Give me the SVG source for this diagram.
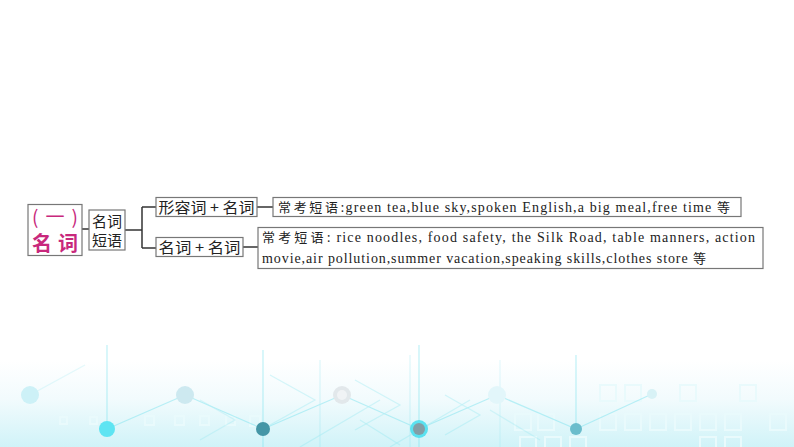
<svg xmlns="http://www.w3.org/2000/svg" width="794" height="447" viewBox="0 0 794 447">
<style>
.box{fill:#fff;stroke:#777;stroke-width:1.2}
.con{stroke:#333;stroke-width:1.5;fill:none}
.cn{font-family:"Noto Sans CJK SC","Noto Sans",sans-serif}
.en{font-family:"Liberation Serif","Noto Sans CJK SC",serif}
.t{font-size:15px;fill:#222}
.s{font-size:14px;fill:#222}
.c13{font-size:13px}
.deco{stroke:#74e2ee;stroke-width:1.2;fill:none}
.sq{fill:none;stroke:#e9fafc;stroke-width:2}
</style>
<defs>
<linearGradient id="bg" x1="0" y1="0" x2="0" y2="1">
<stop offset="0" stop-color="#ffffff"/>
<stop offset="0.45" stop-color="#f2fbfd"/>
<stop offset="1" stop-color="#d0f3f8"/>
</linearGradient>
</defs>
<rect width="794" height="447" fill="#fff"/>
<g id="background">
<rect x="0" y="360" width="794" height="87" fill="url(#bg)"/>
<g class="sq">
<rect x="60" y="417" width="7" height="7"/><rect x="90" y="417" width="7" height="7"/>
<rect x="145" y="416" width="9" height="9"/><rect x="175" y="416" width="9" height="9"/><rect x="200" y="416" width="9" height="9"/>
<rect x="226" y="416" width="9" height="9"/><rect x="250" y="416" width="10" height="10"/>
<rect x="515" y="414" width="16" height="16"/><rect x="538" y="414" width="16" height="16"/><rect x="600" y="414" width="16" height="16"/>
<rect x="625" y="414" width="16" height="16"/><rect x="650" y="414" width="16" height="16"/><rect x="675" y="414" width="16" height="16"/>
<rect x="700" y="414" width="16" height="16"/><rect x="725" y="414" width="16" height="16"/><rect x="770" y="414" width="16" height="16"/>
<rect x="520" y="437" width="16" height="16"/><rect x="545" y="437" width="16" height="16"/><rect x="570" y="437" width="16" height="16"/>
<rect x="700" y="437" width="16" height="16"/><rect x="725" y="437" width="16" height="16"/>
<rect x="600" y="385" width="16" height="16"/><rect x="625" y="385" width="16" height="16"/><rect x="680" y="385" width="16" height="16"/><rect x="740" y="385" width="16" height="16"/>
</g>
<g class="deco" opacity="0.45">
<line x1="107" y1="345" x2="107" y2="429"/>
<line x1="107" y1="429" x2="185" y2="395"/>
<line x1="185" y1="395" x2="263" y2="429"/>
<line x1="263" y1="429" x2="342" y2="395"/>
<line x1="263" y1="350" x2="263" y2="447"/>
<line x1="342" y1="395" x2="419" y2="429"/>
<line x1="419" y1="429" x2="497" y2="395"/>
<line x1="419" y1="345" x2="419" y2="447"/>
<line x1="497" y1="395" x2="576" y2="429"/>
<line x1="576" y1="429" x2="652" y2="394"/>
<line x1="576" y1="355" x2="576" y2="429"/>
<line x1="30" y1="395" x2="85" y2="365" opacity="0.4"/>
<polyline points="200,400 235,420 200,440" opacity="0.5"/>
<polyline points="270,375 315,400 270,425" opacity="0.6"/>
<polyline points="355,380 400,405 355,430" opacity="0.6"/>
<polyline points="360,420 400,445" opacity="0.6"/>
<polyline points="445,395 480,415 445,435" opacity="0.6"/>
<line x1="300" y1="447" x2="380" y2="400" opacity="0.6"/>
<line x1="390" y1="447" x2="470" y2="400" opacity="0.6"/>
<line x1="490" y1="410" x2="540" y2="440" opacity="0.5"/>
<line x1="320" y1="360" x2="320" y2="447" opacity="0.5"/>
<line x1="410" y1="355" x2="410" y2="447" opacity="0.5"/>
<line x1="500" y1="360" x2="500" y2="447" opacity="0.4"/>
</g>
<circle cx="30" cy="395" r="9" fill="#cdf1f7"/>
<circle cx="185" cy="395" r="9" fill="#cde9f0"/>
<circle cx="342" cy="395" r="9" fill="#e2e8eb"/>
<circle cx="342" cy="395" r="5" fill="#f0f3f5"/>
<circle cx="497" cy="395" r="9" fill="#e2f6fa"/>
<circle cx="652" cy="394" r="5" fill="#d8f2f6"/>
<circle cx="107" cy="429" r="8" fill="#5ee4f2"/>
<circle cx="263" cy="429" r="7" fill="#4596a6"/>
<circle cx="419" cy="429" r="9" fill="#5ae2f0"/>
<circle cx="419" cy="429" r="6" fill="#839ea6"/>
<circle cx="576" cy="429" r="6" fill="#6bbdcc"/>
</g>
<g id="connectors" class="con">
<line x1="82" y1="229" x2="89" y2="229"/>
<line x1="125" y1="230" x2="142" y2="230"/>
<line x1="142" y1="207" x2="142" y2="248"/>
<line x1="142" y1="207" x2="156" y2="207"/>
<line x1="142" y1="248" x2="156" y2="248"/>
<line x1="257" y1="207" x2="273" y2="207"/>
<line x1="243" y1="247" x2="258" y2="247"/>
</g>
<g id="n1">
<rect class="box" x="28" y="204.5" width="54" height="51"/>
<text class="cn" x="55" y="224" font-size="19" fill="#c8287c" text-anchor="middle" textLength="46" lengthAdjust="spacing">(一)</text>
<text class="cn" x="55" y="251" font-size="20" font-weight="bold" fill="#c8287c" text-anchor="middle" textLength="46" lengthAdjust="spacing">名词</text>
</g>
<g id="n2">
<rect class="box" x="89" y="210" width="36" height="40"/>
<text class="cn t" x="107" y="227" text-anchor="middle">名词</text>
<text class="cn t" x="107" y="246" text-anchor="middle">短语</text>
</g>
<g id="n3">
<rect class="box" x="156" y="197.5" width="101" height="19"/>
<text class="cn t" x="206.5" y="213" text-anchor="middle" textLength="96" lengthAdjust="spacingAndGlyphs">形容词 + 名词</text>
</g>
<g id="n4">
<rect class="box" x="273" y="197.5" width="468" height="19"/>
<text class="s" x="278" y="212" textLength="452" lengthAdjust="spacing"><tspan class="cn c13" letter-spacing="1.5">常考短语</tspan><tspan class="en">:green tea,blue sky,spoken English,a big meal,free time </tspan><tspan class="cn c13">等</tspan></text>
</g>
<g id="n5">
<rect class="box" x="156" y="237.5" width="87" height="19"/>
<text class="cn t" x="199.5" y="253" text-anchor="middle" textLength="82" lengthAdjust="spacingAndGlyphs">名词 + 名词</text>
</g>
<g id="n6">
<rect class="box" x="258" y="227.5" width="505" height="41"/>
<text class="s" x="262" y="242" textLength="493" lengthAdjust="spacing"><tspan class="cn c13" letter-spacing="2">常考短语</tspan><tspan class="en">: rice noodles, food safety, the Silk Road, table manners, action</tspan></text>
<text class="s" x="262" y="263" textLength="444" lengthAdjust="spacing"><tspan class="en">movie,air pollution,summer vacation,speaking skills,clothes store </tspan><tspan class="cn c13">等</tspan></text>
</g>
</svg>
